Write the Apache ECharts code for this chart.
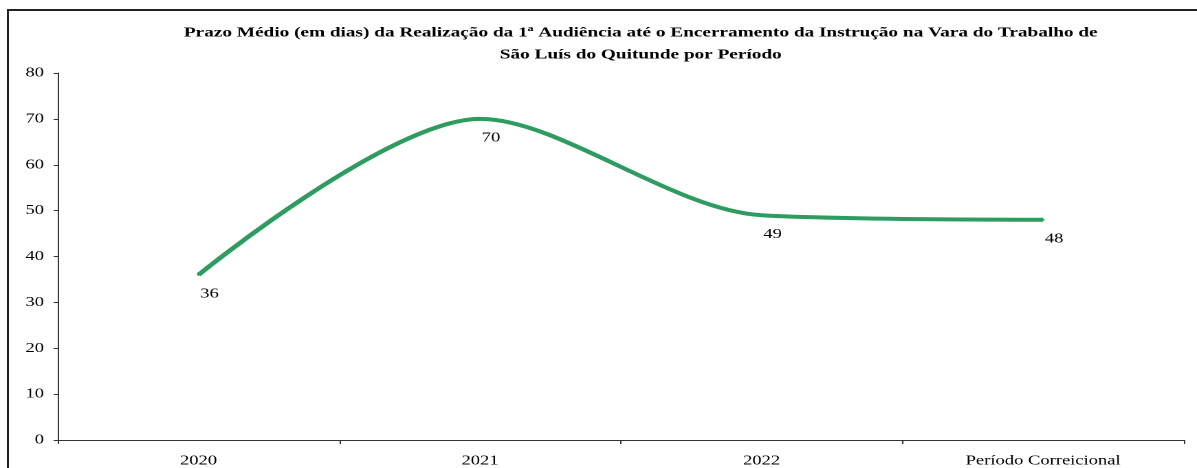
<!DOCTYPE html>
<html>
<head>
<meta charset="utf-8">
<script src="https://cdn.jsdelivr.net/npm/echarts@6/dist/echarts.min.js"></script>
<style>
    html, body { margin: 0; padding: 0; background: #fff; overflow: hidden; }
    #frame {
        position: absolute; left: 7px; top: 9px; width: 1190px; height: 459px;
        border-left: 2px solid #222; border-top: 2px solid #222;
    }
    /* the original picture is stretched horizontally, so the chart is drawn narrower and widened */
    #chart {
        position: absolute; left: 0; top: 0; width: 870px; height: 468px;
        transform: scaleX(1.375); transform-origin: 0 0;
    }
</style>
</head>
<body>
<div id="frame"></div>
<div id="chart"></div>
<script>
    // Data
    const periods = ['2020', '2021', '2022', 'Período Correicional'];
    const avgDays = [36, 70, 49, 48];
    const yTicks = [0, 10, 20, 30, 40, 50, 60, 70, 80];

    const chartTitle = 'Prazo Médio (em dias) da Realização da 1ª Audiência até o Encerramento da Instrução na Vara do Trabalho de\nSão Luís do Quitunde por Período';

    document.addEventListener('DOMContentLoaded', function () {
        const chartDom = document.getElementById('chart');
        const myChart = echarts.init(chartDom, null, { devicePixelRatio: 2 });
        const serif = '"Liberation Serif", "Times New Roman", serif';
        const lineColor = '#2e9b5f';

        const option = {
            animation: false,
            textStyle: { fontFamily: serif },
            title: {
                text: chartTitle,
                left: 461,
                top: 17,
                textAlign: 'center',
                textStyle: {
                    fontFamily: serif,
                    fontSize: 14,
                    fontWeight: 'bold',
                    color: '#000',
                    lineHeight: 22
                }
            },
            grid: {
                left: 42,
                right: 9,
                top: 73,
                bottom: 27
            },
            xAxis: {
                type: 'category',
                data: periods,
                axisLine: { lineStyle: { color: '#333', width: 1 } },
                axisTick: { show: true, length: 4, lineStyle: { color: '#333' } },
                axisLabel: {
                    color: '#000',
                    fontFamily: serif,
                    fontSize: 13.5,
                    margin: 14
                }
            },
            yAxis: {
                type: 'value',
                min: yTicks[0],
                max: yTicks[yTicks.length - 1],
                interval: yTicks[1] - yTicks[0],
                axisLine: { show: true, lineStyle: { color: '#333', width: 1 } },
                axisTick: { show: true, length: 3, lineStyle: { color: '#333' } },
                splitLine: { show: false },
                axisLabel: {
                    color: '#000',
                    fontFamily: serif,
                    fontSize: 13.5,
                    margin: 10
                }
            },
            series: [
                {
                    name: 'Prazo Médio',
                    type: 'line',
                    data: avgDays,
                    smooth: 0.3,
                    symbol: 'circle',
                    symbolSize: 2,
                    showSymbol: true,
                    itemStyle: { color: lineColor },
                    lineStyle: { color: lineColor, width: 4 },
                    label: {
                        show: true,
                        position: 'bottom',
                        distance: 11,
                        offset: [8, 0],
                        color: '#000',
                        fontFamily: serif,
                        fontSize: 13.5
                    }
                }
            ]
        };

        myChart.setOption(option);
    });
</script>
</body>
</html>
